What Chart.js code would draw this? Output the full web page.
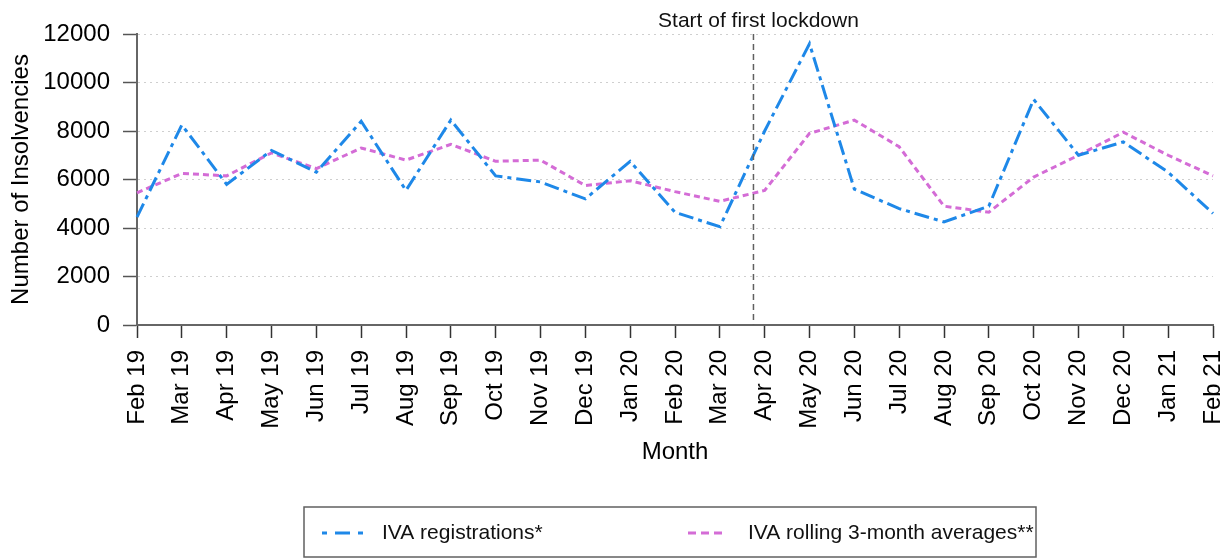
<!DOCTYPE html>
<html>
<head>
<meta charset="utf-8">
<script src="https://cdn.jsdelivr.net/npm/chart.js@4"></script>
<style>
  body { margin: 0; background: #fff; }
  #wrap { width: 1231px; height: 559px; position: relative; }
</style>
</head>
<body>
<div id="wrap"><canvas id="ivaChart" width="1231" height="559"></canvas></div>
<script>
// --- data ---
const months = ['Feb 19', 'Mar 19', 'Apr 19', 'May 19', 'Jun 19', 'Jul 19', 'Aug 19', 'Sep 19',
  'Oct 19', 'Nov 19', 'Dec 19', 'Jan 20', 'Feb 20', 'Mar 20', 'Apr 20', 'May 20', 'Jun 20',
  'Jul 20', 'Aug 20', 'Sep 20', 'Oct 20', 'Nov 20', 'Dec 20', 'Jan 21', 'Feb 21'];
const ivaRegistrations = [4450, 8250, 5800, 7200, 6300, 8400, 5550, 8450, 6150, 5900, 5200, 6750,
  4650, 4050, 8000, 11600, 5600, 4800, 4250, 4900, 9300, 7000, 7550, 6300, 4600];
const ivaRolling = [5450, 6250, 6150, 7100, 6450, 7300, 6800, 7450, 6750, 6800, 5750, 5950,
  5500, 5100, 5550, 7900, 8450, 7350, 4900, 4650, 6100, 7000, 7950, 7000, 6150];
const yTicks = [0, 2000, 4000, 6000, 8000, 10000, 12000];
const seriesNames = ['IVA registrations*', 'IVA rolling 3-month averages**'];
const lockdownAt = 13.75; // between Mar 20 and Apr 20
const lockdownLabel = 'Start of first lockdown';

const BLUE = '#1e88e8';
const PINK = '#d46cd6';
const FONT = '"Liberation Sans", Arial, sans-serif';

Chart.defaults.font.family = FONT;
Chart.defaults.color = '#000';

// dashed marker line + its caption
const lockdownPlugin = {
  id: 'lockdown',
  afterDatasetsDraw(chart) {
    const c = chart.ctx, area = chart.chartArea;
    const x = chart.scales.x.getPixelForValue(lockdownAt);
    c.save();
    c.strokeStyle = '#606060';
    c.lineWidth = 1.5;
    c.setLineDash([6, 4]);
    c.beginPath();
    c.moveTo(x, area.top);
    c.lineTo(x, area.bottom);
    c.stroke();
    c.setLineDash([]);
    c.fillStyle = '#111';
    c.font = '21px ' + FONT;
    c.textAlign = 'center';
    c.textBaseline = 'alphabetic';
    c.fillText(lockdownLabel, x + 5, 27);
    c.restore();
  }
};

// boxed legend under the axis
const boxLegend = {
  id: 'boxLegend',
  afterDraw(chart) {
    const c = chart.ctx;
    const y = 533;
    c.save();
    c.strokeStyle = '#606060';
    c.lineWidth = 1.5;
    c.strokeRect(304, 507, 732, 50);
    c.lineWidth = 3;
    c.strokeStyle = BLUE;
    c.setLineDash([5, 8, 15, 8]);
    c.beginPath(); c.moveTo(322, y); c.lineTo(363, y); c.stroke();
    c.strokeStyle = PINK;
    c.setLineDash([8, 5]);
    c.beginPath(); c.moveTo(688, y); c.lineTo(722, y); c.stroke();
    c.setLineDash([]);
    c.fillStyle = '#111';
    c.font = '21px ' + FONT;
    c.textBaseline = 'middle';
    c.fillText(seriesNames[0], 382, y);
    c.fillText(seriesNames[1], 748, y);
    c.restore();
  }
};

const ctx = document.getElementById('ivaChart').getContext('2d');
new Chart(ctx, {
  type: 'line',
  data: {
    labels: months,
    datasets: [
      {
        label: seriesNames[0],
        data: ivaRegistrations,
        borderColor: BLUE,
        borderWidth: 3,
        borderDash: [15, 5, 4, 5],
        pointRadius: 0,
        tension: 0,
        fill: false
      },
      {
        label: seriesNames[1],
        data: ivaRolling,
        borderColor: PINK,
        borderWidth: 3,
        borderDash: [6, 4],
        pointRadius: 0,
        tension: 0,
        fill: false
      }
    ]
  },
  options: {
    responsive: false,
    animation: false,
    layout: { padding: { top: 34, right: 18, bottom: 89, left: 0 } },
    plugins: {
      legend: { display: false },
      tooltip: { enabled: false }
    },
    scales: {
      x: {
        type: 'category',
        offset: false,
        afterFit: s => { s.height = 145; s.paddingLeft = 0; s.paddingRight = 0; },
        grid: {
          drawOnChartArea: false,
          drawTicks: true,
          tickLength: 13,
          tickColor: '#333',
          tickWidth: 1.5
        },
        border: { color: '#666', width: 2 },
        ticks: {
          autoSkip: false,
          minRotation: 90,
          maxRotation: 90,
          padding: 12,
          font: { size: 24 },
          color: '#000'
        },
        title: {
          display: true,
          text: 'Month',
          font: { size: 24 },
          color: '#000',
          padding: { top: 0, bottom: 3 }
        }
      },
      y: {
        min: 0,
        max: 12000,
        afterFit: s => { s.width = 137; s.paddingTop = 0; s.paddingBottom = 0; },
        afterBuildTicks: s => { s.ticks = yTicks.map(v => ({ value: v })); },
        grid: {
          color: '#cfcfcf',
          lineWidth: 1,
          tickLength: 14,
          tickColor: '#555',
          tickWidth: 1.5
        },
        border: { color: '#666', width: 2, dash: [2, 4] },
        ticks: {
          padding: 13,
          font: { size: 24 },
          color: '#000',
          callback: v => String(v)
        },
        title: {
          display: true,
          text: 'Number of Insolvencies',
          font: { size: 24 },
          color: '#000',
          padding: { top: 7, bottom: 0 }
        }
      }
    }
  },
  plugins: [lockdownPlugin, boxLegend]
});
</script>
</body>
</html>
